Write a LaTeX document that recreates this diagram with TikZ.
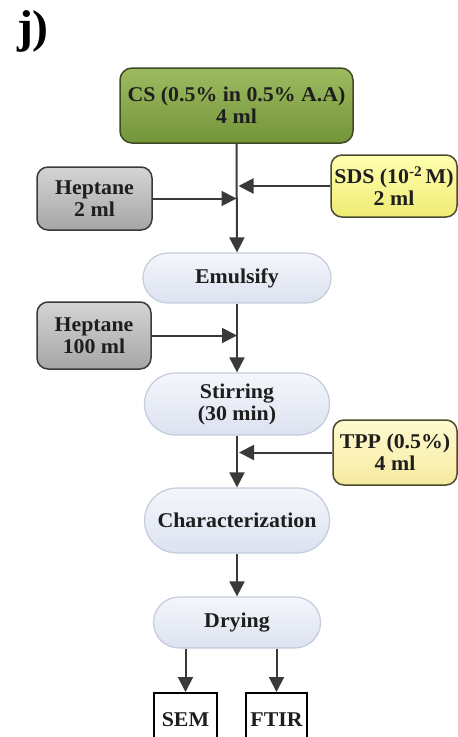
\documentclass[tikz,border=0pt]{standalone}
\usepackage{fontspec}
\setmainfont{Liberation Serif}[FakeStretch=1.04]
\usetikzlibrary{arrows.meta,shapes.misc}

\definecolor{inkline}{HTML}{3A3A3A}
\definecolor{textc}{HTML}{1E1E1E}
\definecolor{greenedge}{HTML}{3F4A25}
\definecolor{greentop}{HTML}{9DBA60}
\definecolor{greenbot}{HTML}{74953A}
\definecolor{grayedge}{HTML}{3A3A3A}
\definecolor{graytop}{HTML}{D4D4D4}
\definecolor{graybot}{HTML}{A6A6A6}
\definecolor{yellowedge}{HTML}{4A4A30}
\definecolor{yellowtop}{HTML}{FFFFB0}
\definecolor{yellowbot}{HTML}{F0EC74}
\definecolor{paletop}{HTML}{FFFAD0}
\definecolor{palebot}{HTML}{F6EAA0}
\definecolor{stageedge}{HTML}{C3CBDD}
\definecolor{stagetop}{HTML}{F4F6FB}
\definecolor{stagebot}{HTML}{DCE2F0}

\tikzset{
  base/.style={draw, line width=1.5pt, align=center, inner sep=0pt,
    text=textc, font=\bfseries\fontsize{21}{22}\selectfont},
  greenbox/.style={base, rounded corners=12pt, draw=greenedge,
    top color=greentop, bottom color=greenbot},
  graybox/.style={base, rounded corners=11pt, draw=grayedge,
    top color=graytop, bottom color=graybot},
  yellowbox/.style={base, rounded corners=11pt, draw=yellowedge,
    top color=yellowtop, bottom color=yellowbot},
  paleyellowbox/.style={base, rounded corners=11pt, draw=yellowedge,
    top color=paletop, bottom color=palebot},
  stage/.style={base, rounded rectangle, line width=1.2pt, draw=stageedge,
    top color=stagetop, bottom color=stagebot},
  outbox/.style={base, draw=black, line width=2pt, fill=white},
  arr/.style={draw=inkline, line width=2pt,
    -{Triangle[width=15pt,length=15pt]}},
}

\begin{document}
\begin{tikzpicture}[x=1pt,y=-1pt]
  \path[use as bounding box] (0,0) rectangle (458,737);
  \clip (0,0) rectangle (458,737);

  % panel label
  \node[font=\bfseries\fontsize{46}{46}\selectfont, text=black] (lbl) at (33,31) {j)};

  % inputs and stages
  \node[greenbox, minimum width=233pt, minimum height=75pt] (cs) at (236.5,105.5)
    {CS (0.5\% in 0.5\% A.A)\\4 ml};
  \node[graybox, minimum width=115pt, minimum height=63pt] (hep1) at (94.5,198.5)
    {Heptane\\2 ml};
  \node[yellowbox, minimum width=126pt, minimum height=62pt] (sds) at (394,186)
    {SDS (10\textsuperscript{-2}\,M)\\2 ml};
  \node[stage, minimum width=188pt, minimum height=50pt] (emu) at (237,278)
    {Emulsify};
  \node[graybox, minimum width=114pt, minimum height=67pt] (hep2) at (94,335.5)
    {Heptane\\100 ml};
  \node[stage, minimum width=185pt, minimum height=62pt] (stir) at (237,404)
    {Stirring\\(30 min)};
  \node[paleyellowbox, minimum width=124pt, minimum height=65pt] (tpp) at (395,452.5)
    {TPP (0.5\%)\\4 ml};
  \node[stage, minimum width=185pt, minimum height=65pt] (char) at (237,520.5)
    {Characterization};
  \node[stage, minimum width=167pt, minimum height=51pt] (dry) at (237,622.5)
    {Drying};
  \node[outbox, minimum width=63pt, minimum height=70pt, anchor=north] (sem) at (185.5,692)
    {\raisebox{16pt}{SEM}};
  \node[outbox, minimum width=61pt, minimum height=70pt, anchor=north] (ftir) at (276.5,692)
    {\raisebox{16pt}{FTIR}};

  % main flow
  \draw[arr] (cs.south) -- (emu.north);
  \draw[arr] (emu.south) -- (stir.north);
  \draw[arr] (stir.south) -- (char.north);
  \draw[arr] (char.south) -- (dry.north);

  % side feeds
  \draw[arr] (hep1.east) -- (hep1.east -| cs.south);
  \draw[arr] (sds.west) -- ([xshift=2pt]sds.west -| cs.south);
  \draw[arr] (hep2.east) -- (hep2.east -| emu.south);
  \draw[arr] (tpp.west) -- ([xshift=2pt]tpp.west -| stir.south);

  % analyses
  \draw[arr] (dry.south -| sem.north) -- (sem.north);
  \draw[arr] (dry.south -| ftir.north) -- (ftir.north);
\end{tikzpicture}
\end{document}
